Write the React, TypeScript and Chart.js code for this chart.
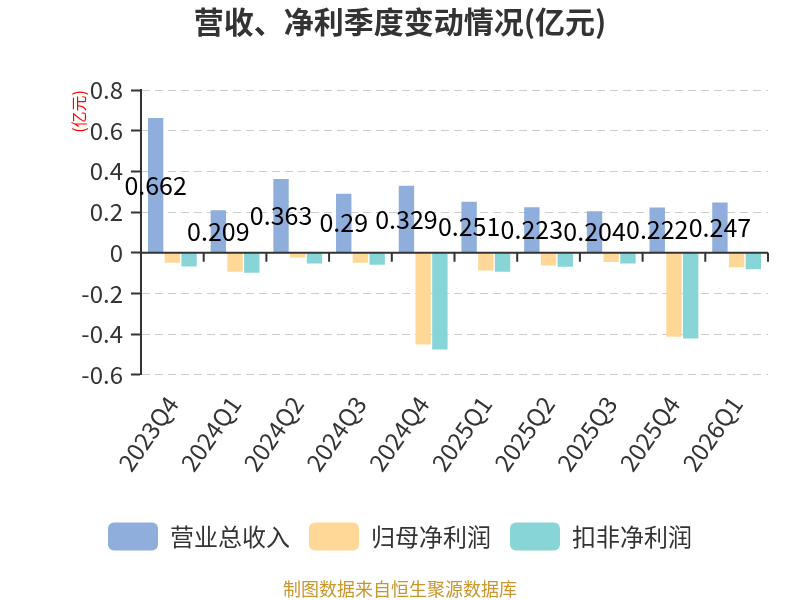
import { useEffect, useRef } from "react";
import { Chart, registerables } from "chart.js";

Chart.register(...registerables);

const categories = ["2023Q4", "2024Q1", "2024Q2", "2024Q3", "2024Q4", "2025Q1", "2025Q2", "2025Q3", "2025Q4", "2026Q1"];
const revenue = [0.662, 0.209, 0.363, 0.29, 0.329, 0.251, 0.223, 0.204, 0.222, 0.247];
const parentNetProfit = [-0.049, -0.094, -0.023, -0.049, -0.451, -0.087, -0.063, -0.046, -0.413, -0.072];
const deductedNetProfit = [-0.068, -0.099, -0.053, -0.059, -0.476, -0.094, -0.069, -0.053, -0.422, -0.081];
const seriesNames = ["营业总收入", "归母净利润", "扣非净利润"];
const seriesColors = ["#8faedb", "#ffd898", "#88d5d8"];

const FONT = "'Noto Sans CJK SC', 'Noto Sans', sans-serif";

// zero axis line with category boundary ticks
const zeroAxisPlugin = {
    id: "zeroAxis",
    afterDatasetsDraw(chart: any) {
        const { ctx, chartArea, scales } = chart;
        const y0 = scales.y.getPixelForValue(0);
        const n = categories.length;
        const step = (chartArea.right - chartArea.left) / n;
        ctx.save();
        ctx.strokeStyle = "#333";
        ctx.lineWidth = 2;
        ctx.beginPath();
        ctx.moveTo(chartArea.left, y0);
        ctx.lineTo(chartArea.right, y0);
        for (let i = 1; i <= n; i++) {
            const x = chartArea.left + step * i;
            ctx.moveTo(x, y0);
            ctx.lineTo(x, y0 + 9);
        }
        ctx.stroke();
        ctx.restore();
    },
};

// value labels in the middle of the revenue bars
const valueLabelPlugin = {
    id: "valueLabels",
    afterDatasetsDraw(chart: any) {
        const { ctx } = chart;
        const meta = chart.getDatasetMeta(0);
        ctx.save();
        ctx.font = `25px ${FONT}`;
        ctx.fillStyle = "#000";
        ctx.textAlign = "center";
        ctx.textBaseline = "middle";
        meta.data.forEach((bar: any, i: number) => {
            ctx.fillText(String(revenue[i]), bar.x, (bar.y + bar.base) / 2);
        });
        ctx.restore();
    },
};

const App = () => {
    const canvasRef = useRef<HTMLCanvasElement | null>(null);

    useEffect(() => {
        if (!canvasRef.current) return;
        const ctx = canvasRef.current.getContext("2d");
        if (!ctx) return;

        const chart = new Chart(ctx, {
            type: "bar",
            data: {
                labels: categories,
                datasets: [revenue, parentNetProfit, deductedNetProfit].map((d, i) => ({
                    label: seriesNames[i],
                    data: d,
                    backgroundColor: seriesColors[i],
                    borderWidth: 0,
                    categoryPercentage: 0.8,
                    barPercentage: 0.92,
                })),
            },
            options: {
                responsive: false,
                animation: false,
                layout: { padding: { left: 32, right: 32, top: 0, bottom: 0 } },
                plugins: {
                    title: {
                        display: true,
                        text: "营收、净利季度变动情况(亿元)",
                        color: "#333",
                        font: { family: FONT, size: 30, weight: "bold" },
                        padding: { top: 4, bottom: 50 },
                    },
                    subtitle: {
                        display: true,
                        position: "bottom",
                        text: "制图数据来自恒生聚源数据库",
                        color: "#c8962d",
                        font: { family: FONT, size: 18 },
                        padding: { top: 18, bottom: 0 },
                    },
                    legend: {
                        position: "bottom",
                        labels: {
                            color: "#333",
                            font: { family: FONT, size: 24 },
                            boxWidth: 50,
                            boxHeight: 28,
                            useBorderRadius: true,
                            borderRadius: 6,
                            padding: 19,
                        },
                    },
                    tooltip: { enabled: false },
                },
                scales: {
                    x: {
                        grid: { display: false },
                        border: { display: false },
                        title: {
                            display: true,
                            text: "",
                            font: { size: 10 },
                            padding: { top: 0, bottom: 7 },
                        },
                        ticks: {
                            color: "#333",
                            font: { family: FONT, size: 24 },
                            minRotation: 55,
                            maxRotation: 55,
                            padding: 8,
                        },
                    },
                    y: {
                        min: -0.6,
                        max: 0.8,
                        afterFit: (scale: any) => {
                            scale.width = 109;
                        },
                        title: {
                            display: true,
                            text: "(亿元)",
                            color: "#ff0000",
                            align: "end",
                            font: { family: FONT, size: 16 },
                            padding: { top: 37, bottom: 0 },
                        },
                        grid: {
                            color: "#cccccc",
                            lineWidth: 1,
                            tickColor: "#333",
                            tickLength: 10,
                            tickWidth: 2,
                        },
                        border: { display: true, color: "#333", width: 2, dash: [8, 5] },
                        ticks: {
                            stepSize: 0.2,
                            color: "#333",
                            font: { family: FONT, size: 24 },
                            padding: 8,
                            callback: (v: any) => String(parseFloat(Number(v).toFixed(1))),
                        },
                    },
                },
            },
            plugins: [zeroAxisPlugin, valueLabelPlugin],
        });

        return () => {
            chart.destroy();
        };
    }, []);

    return (
        <div style={{ position: "fixed", left: 0, top: 0, width: 800, height: 600, background: "#fff" }}>
            <canvas ref={canvasRef} width={800} height={600} style={{ width: 800, height: 600 }}></canvas>
        </div>
    );
};

export default App;
